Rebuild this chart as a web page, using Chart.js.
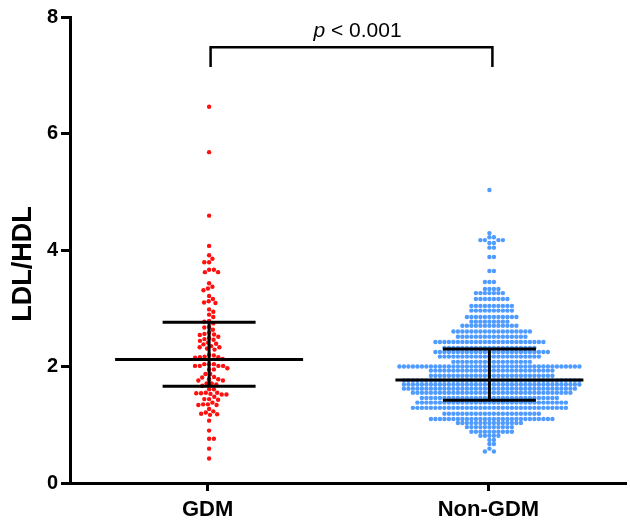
<!DOCTYPE html>
<html>
<head>
<meta charset="utf-8">
<script src="https://cdn.jsdelivr.net/npm/chart.js@4/dist/chart.umd.min.js"></script>
<style>
  html, body { margin: 0; padding: 0; background: #fff; }
  #wrap { width: 630px; height: 522px; }
</style>
</head>
<body>
<div id="wrap"><canvas id="chart" width="630" height="522"></canvas></div>
<script>
// groups on the x axis
const groupLabels = ['GDM', 'Non-GDM'];

// GDM: one value per dot
const gdmValues = [
  6.46, 5.68, 4.59, 4.07, 3.91, 3.85, 3.79, 3.79, 3.66, 3.66, 3.62, 3.62,
  3.43, 3.37, 3.34, 3.31, 3.21, 3.16, 3.12, 3.10, 3.09,
  2.98, 2.94, 2.89, 2.85, 2.78, 2.77, 2.74, 2.68, 2.67, 2.63,
  2.58, 2.56, 2.55, 2.54, 2.51,
  2.49, 2.47, 2.46, 2.44, 2.41, 2.39, 2.38, 2.35, 2.33, 2.33, 2.31, 2.29,
  2.20, 2.19, 2.17, 2.16, 2.16, 2.15, 2.13,
  2.04, 2.04, 2.04, 2.01, 2.01, 2.01, 2.01, 1.97, 1.95, 1.95,
  1.87, 1.87, 1.82, 1.81, 1.78, 1.78, 1.76, 1.76, 1.71, 1.71, 1.69,
  1.67, 1.61, 1.61, 1.55, 1.55, 1.54, 1.54, 1.53, 1.52, 1.52, 1.48,
  1.44, 1.44, 1.43, 1.38, 1.35, 1.35, 1.34, 1.34, 1.27, 1.23, 1.21, 1.19, 1.18, 1.17,
  1.07, 0.90, 0.76, 0.76, 0.59, 0.42
];

// Non-GDM: the dots sit in rows, so each row is a value and a dot count
const nonGdmLevels = [
  5.03, 4.29, 4.22, 4.17, 4.12, 4.04, 3.88, 3.64,
  3.45, 3.33, 3.26, 3.16, 3.04, 2.96, 2.85, 2.77, 2.70,
  2.60, 2.51, 2.42, 2.32, 2.25, 2.17, 2.08, 2.00, 1.93, 1.84,
  1.76, 1.69, 1.62, 1.55, 1.46, 1.38, 1.29, 1.19, 1.10, 1.03,
  0.96, 0.88, 0.81, 0.74, 0.67, 0.59, 0.54
];
const nonGdmCounts = [
  1, 1, 2, 4, 2, 2, 2, 2,
  3, 4, 7, 8, 10, 10, 12, 9, 13,
  18, 16, 25, 21, 26, 23, 18, 41, 28, 28,
  40, 40, 39, 36, 31, 34, 35, 22, 28, 15,
  11, 10, 5, 2, 2, 1, 2
];

// summary bars (centre line and spread) per group
const groupCentre = [2.12, 1.77];
const groupUpper = [2.76, 2.30];
const groupLower = [1.66, 1.42];

const yTicks = [0, 2, 4, 6, 8];
const yTitle = 'LDL/HDL';
const pText = ['p', ' < 0.001'];

const nonGdmValues = [];
nonGdmLevels.forEach((v, i) => {
  for (let k = 0; k < nonGdmCounts[i]; k++) nonGdmValues.push(v);
});
const groupValues = [gdmValues, nonGdmValues];

const FONT = '"Liberation Sans", Arial, Helvetica, sans-serif';

// place dots side by side where they would overlap (pixel offsets from centre)
// round = true: circle test, otherwise a box test that keeps rows flat
function swarm(pixYs, d, dy, round) {
  const order = pixYs.map((_, i) => i).sort((a, b) => pixYs[a] - pixYs[b]);
  const placed = [];
  const out = new Array(pixYs.length);
  const gap = (p, y) => round ? Math.sqrt(Math.max(0, d * d - (p.y - y) * (p.y - y))) : d;
  for (const i of order) {
    const y = pixYs[i];
    const near = placed.filter(p => Math.abs(p.y - y) < (round ? d : dy));
    const cands = [0];
    near.forEach(p => { const g = gap(p, y); cands.push(p.x + g, p.x - g); });
    cands.sort((a, b) => Math.abs(a) - Math.abs(b) || b - a);
    const x = cands.find(c => near.every(p => Math.abs(p.x - c) >= gap(p, y) - 1e-6));
    placed.push({ x, y });
    out[i] = x;
  }
  return out;
}

const summaryPlugin = {
  id: 'summary',
  afterDatasetsDraw(chart) {
    const { ctx, scales: { x, y } } = chart;
    ctx.save();
    ctx.strokeStyle = '#000';
    ctx.lineWidth = 3;
    ctx.lineCap = 'butt';
    groupLabels.forEach((_, i) => {
      const cx = x.getPixelForValue(i) + (i ? 1 : 1.5);
      const ym = y.getPixelForValue(groupCentre[i]);
      const yu = y.getPixelForValue(groupUpper[i]);
      const yl = y.getPixelForValue(groupLower[i]);
      ctx.beginPath();
      ctx.moveTo(cx - 94, ym); ctx.lineTo(cx + 94, ym);
      ctx.moveTo(cx - 46.5, yu); ctx.lineTo(cx + 46.5, yu);
      ctx.moveTo(cx - 46.5, yl); ctx.lineTo(cx + 46.5, yl);
      ctx.moveTo(cx, yu); ctx.lineTo(cx, yl);
      ctx.stroke();
    });

    // significance bracket
    const x0 = x.getPixelForValue(0) + 3;
    const x1 = x.getPixelForValue(1) + 4;
    const top = y.getPixelForValue(7.48);
    const foot = y.getPixelForValue(7.14);
    ctx.lineWidth = 2.5;
    ctx.beginPath();
    ctx.moveTo(x0, foot); ctx.lineTo(x0, top); ctx.lineTo(x1, top); ctx.lineTo(x1, foot);
    ctx.stroke();

    ctx.fillStyle = '#000';
    ctx.textBaseline = 'alphabetic';
    ctx.font = 'italic 21px ' + FONT;
    const w0 = ctx.measureText(pText[0]).width;
    ctx.font = '21px ' + FONT;
    const w1 = ctx.measureText(pText[1]).width;
    const tx = (x0 + x1) / 2 + 6 - (w0 + w1) / 2;
    ctx.font = 'italic 21px ' + FONT;
    ctx.fillText(pText[0], tx, 37);
    ctx.font = '21px ' + FONT;
    ctx.fillText(pText[1], tx + w0, 37);

    // y axis title
    ctx.save();
    ctx.translate(24, 264);
    ctx.rotate(-Math.PI / 2);
    ctx.textAlign = 'center';
    ctx.textBaseline = 'middle';
    ctx.font = 'bold 27px ' + FONT;
    ctx.fillText(yTitle, 0, 0);
    ctx.restore();
    ctx.restore();
  }
};

const chart = new Chart(document.getElementById('chart'), {
  type: 'scatter',
  data: {
    datasets: [
      {
        label: groupLabels[0],
        data: gdmValues.map(v => ({ x: 0, y: v })),
        backgroundColor: '#ff1010',
        pointRadius: 2.2,
        pointBorderWidth: 0
      },
      {
        label: groupLabels[1],
        data: nonGdmValues.map(v => ({ x: 1, y: v })),
        backgroundColor: '#4f9bff',
        pointRadius: 2.2,
        pointBorderWidth: 0
      }
    ]
  },
  options: {
    responsive: false,
    animation: false,
    devicePixelRatio: 1,
    layout: { padding: { top: 17, right: 0, bottom: 0, left: 0 } },
    plugins: { legend: { display: false }, tooltip: { enabled: false } },
    scales: {
      x: {
        type: 'linear',
        min: -0.49,
        max: 1.49,
        afterBuildTicks: s => { s.ticks = groupLabels.map((_, i) => ({ value: i })); },
        afterFit: s => { s.height = 39; },
        ticks: {
          callback: v => groupLabels[v],
          color: '#000',
          font: { family: FONT, size: 22, weight: 'bold' },
          padding: 6,
          maxRotation: 0,
          autoSkip: false
        },
        grid: { drawOnChartArea: false, tickLength: 8, tickWidth: 3, tickColor: '#000' },
        border: { color: '#000', width: 3 }
      },
      y: {
        min: 0,
        max: 8,
        afterBuildTicks: s => { s.ticks = yTicks.map(v => ({ value: v })); },
        afterFit: s => { s.width = 70; },
        ticks: {
          color: '#000',
          font: { family: FONT, size: 20, weight: 'bold' },
          padding: 3
        },
        grid: { drawOnChartArea: false, tickLength: 9, tickWidth: 3, tickColor: '#000' },
        border: { color: '#000', width: 3 }
      }
    }
  },
  plugins: [summaryPlugin]
});

// spread the dots sideways using the chart's own scales, then redraw
(function layoutDots() {
  const xs = chart.scales.x, ys = chart.scales.y;
  groupValues.forEach((vals, gi) => {
    const cx = xs.getPixelForValue(gi) + (gi ? 1 : 1.5);
    const offs = gi === 0
      ? swarm(vals.map(v => ys.getPixelForValue(v)), 4.8, 0, true)
      : swarm(vals.map(v => ys.getPixelForValue(v)), 4.5, 3.6, false);
    chart.data.datasets[gi].data = vals.map((v, k) => ({ x: xs.getValueForPixel(cx + offs[k]), y: v }));
  });
  chart.update('none');
})();
</script>
</body>
</html>
